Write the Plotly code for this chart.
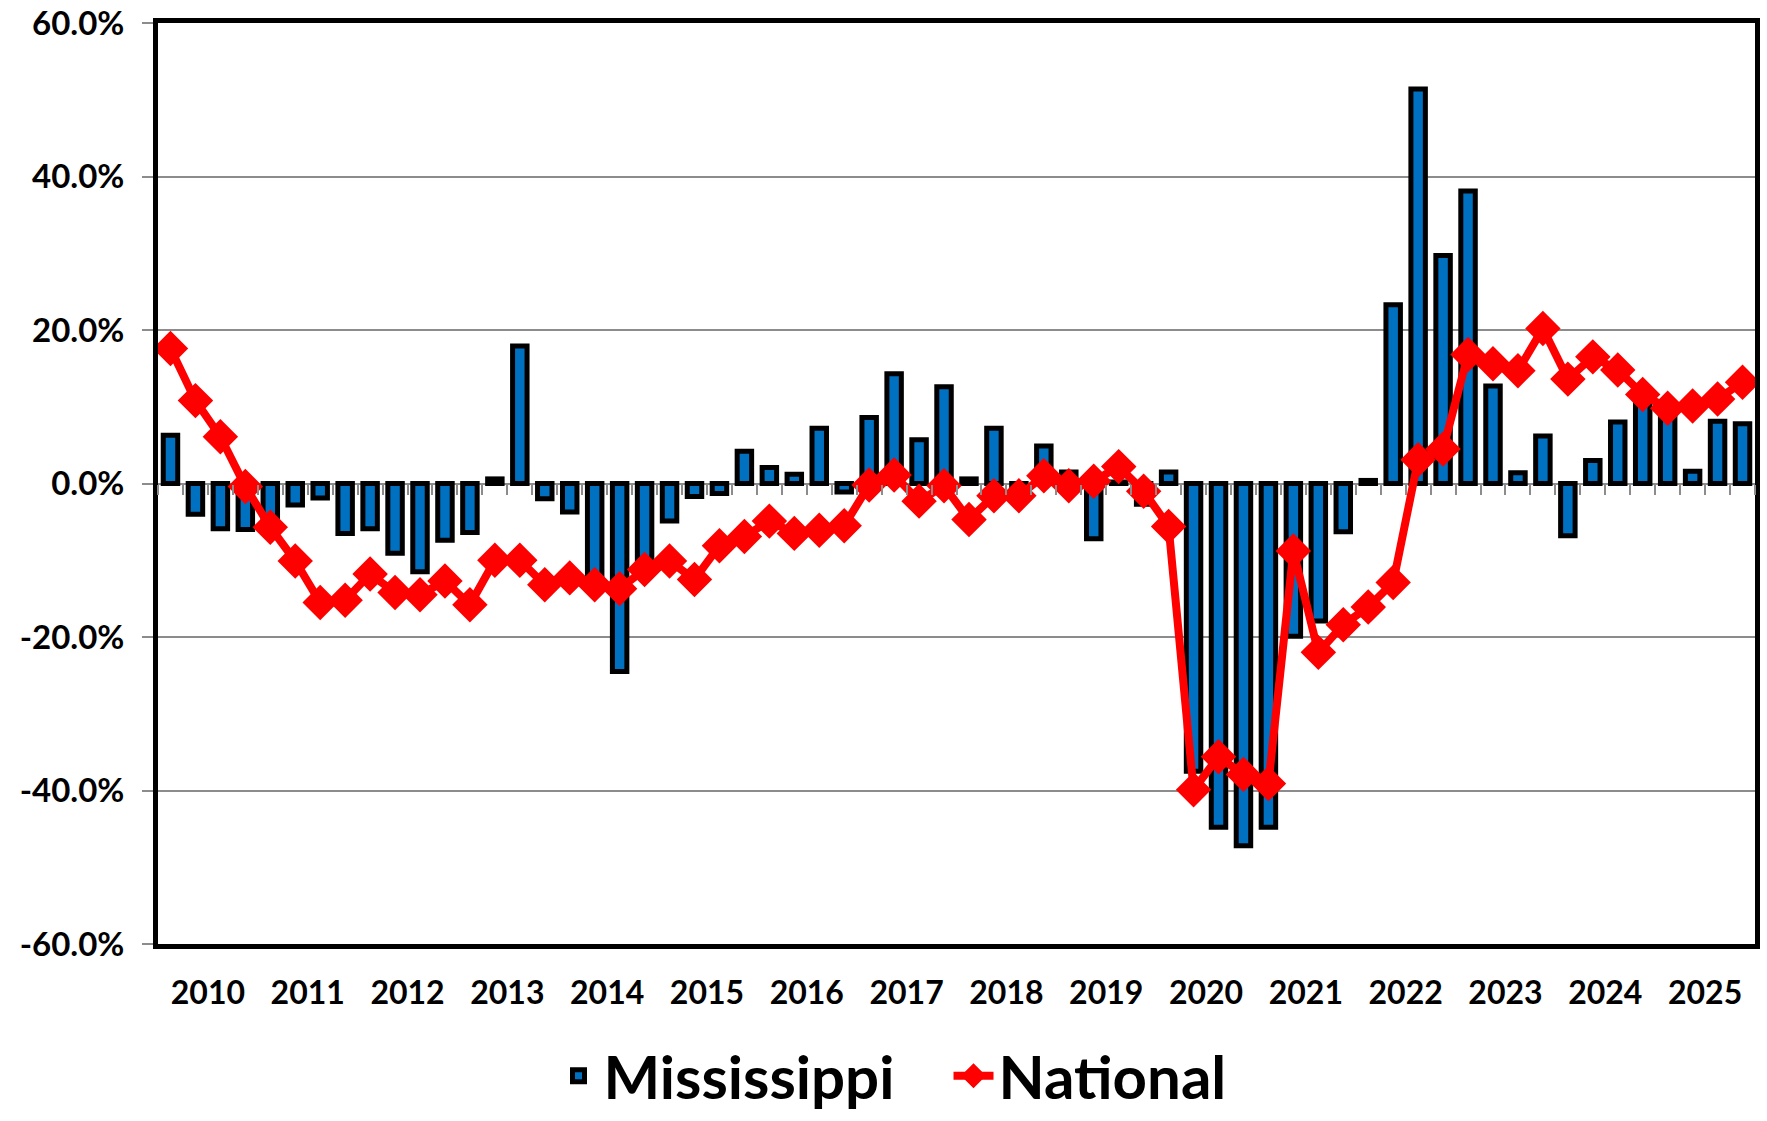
import plotly.graph_objects as go

years = list(range(2010, 2026))
quarters = [f"{y}Q{q}" for y in years for q in range(1, 5)]

mississippi = [
    6.3, -4.0, -5.9, -6.0,
    -5.5, -2.8, -1.9, -6.5,
    -5.9, -9.1, -11.5, -7.4,
    -6.4, 0.6, 17.9, -2.0,
    -3.7, -13.0, -24.5, -11.0,
    -4.9, -1.7, -1.3, 4.2,
    2.1, 1.2, 7.2, -1.1,
    8.6, 14.3, 5.7, 12.6,
    0.6, 7.2, -0.5, 4.9,
    1.5, -7.2, 0.2, -2.7,
    1.5, -37.5, -44.8, -47.2,
    -44.8, -19.9, -17.9, -6.3,
    0.4, 23.3, 51.4, 29.7,
    38.1, 12.7, 1.4, 6.2,
    -6.8, 3.0, 8.0, 10.8,
    9.5, 1.6, 8.1, 7.8,
]

national = [
    17.6, 10.8, 6.1, -0.4,
    -5.7, -10.1, -15.5, -15.2,
    -11.8, -14.2, -14.5, -12.7,
    -15.8, -10.0, -10.0, -13.2,
    -12.3, -13.2, -13.7, -11.2,
    -10.1, -12.5, -8.1, -6.9,
    -4.9, -6.5, -6.1, -5.5,
    -0.2, 1.1, -2.3, -0.3,
    -4.7, -1.6, -1.6, 1.0,
    -0.3, 0.3, 2.2, -1.0,
    -5.6, -39.9, -35.6, -37.9,
    -39.1, -8.8, -22.0, -18.4,
    -16.1, -12.9, 3.1, 4.5,
    16.8, 15.6, 14.7, 20.2,
    13.6, 16.5, 14.8, 11.6,
    9.8, 10.1, 11.0, 13.2,
]

y_ticks = [-60, -40, -20, 0, 20, 40, 60]
y_ticktext = [f"{v:.1f}%" for v in y_ticks]

idx = list(range(len(quarters)))
year_centers = [sum(i for i, q in enumerate(quarters) if q.startswith(str(y))) / 4 for y in years]
boundaries = [i - 0.5 for i in range(len(quarters) + 1)]

FONT = "Lato"
GRID = "#8c8c8c"

fig = go.Figure()
fig.add_trace(go.Bar(
    x=idx, y=mississippi, name="Mississippi",
    marker=dict(color="#0070C0", line=dict(color="black", width=5)),
    width=0.58,
))
fig.add_trace(go.Scatter(
    x=idx, y=national, name="National", xaxis="x2",
    mode="lines+markers",
    line=dict(color="#FF0000", width=8),
    marker=dict(symbol="diamond", size=24, color="#FF0000",
                line=dict(color="#FF0000", width=3)),
))

fig.update_layout(
    width=1767, height=1121,
    margin=dict(l=158, r=12, t=23, b=177, autoexpand=False),
    paper_bgcolor="white", plot_bgcolor="white",
    font=dict(family=FONT, color="black"),
    showlegend=True,
    legend=dict(orientation="h", x=0.495, xanchor="center",
                y=-0.143, yanchor="middle",
                font=dict(family=FONT, size=60, weight="bold", color="black"),
                entrywidth=340, itemwidth=40),
    xaxis=dict(
        range=[-0.5, len(quarters) - 0.5],
        tickmode="array", tickvals=year_centers, ticktext=[str(y) for y in years],
        ticks="", ticklabelstandoff=17,
        tickfont=dict(family=FONT, size=32, weight="bold", color="black"),
        showgrid=False, zeroline=False,
        showline=True, mirror=True, linecolor="black", linewidth=5,
    ),
    xaxis2=dict(
        overlaying="x", anchor="free", position=0.5,
        range=[-0.5, len(quarters) - 0.5],
        tickmode="array", tickvals=boundaries,
        ticks="outside", ticklen=10, tickwidth=2, tickcolor=GRID,
        showticklabels=False, showgrid=False, zeroline=False, showline=False,
    ),
    yaxis=dict(
        range=[-60, 60], tickmode="array", tickvals=y_ticks, ticktext=y_ticktext,
        tickfont=dict(family=FONT, size=33, weight="bold", color="black"),
        showgrid=True, gridcolor=GRID, gridwidth=2,
        zeroline=False,
        showline=True, mirror=True, linecolor="black", linewidth=5,
        ticks="outside", ticklen=11, tickwidth=2, tickcolor=GRID,
        ticklabelstandoff=11,
    ),
)

fig.write_html("out.html", config={"displayModeBar": False},
               post_script="document.body.style.margin='0';")
